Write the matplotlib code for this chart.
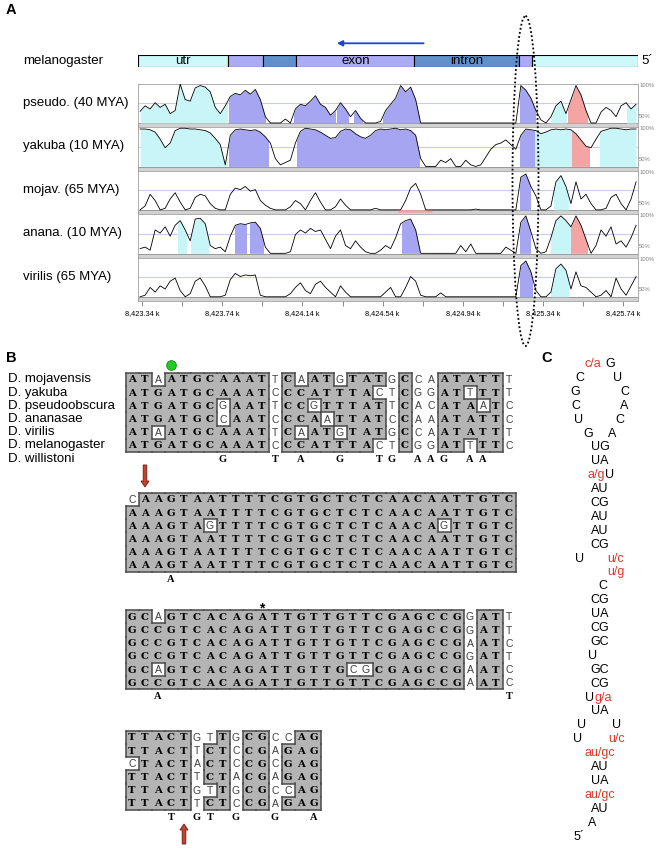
#!/usr/bin/env python3
"""Conservation tracks (A), alignment blocks (B) and hairpin (C) redrawn with matplotlib."""

from collections import Counter

import matplotlib

matplotlib.use("Agg")
import matplotlib.pyplot as plt
import numpy as np
from matplotlib.collections import LineCollection
from matplotlib.patches import Ellipse, Rectangle

W, H = 661, 849
plt.rcParams["font.family"] = ["Liberation Sans", "DejaVu Sans"]

# ---------------------------------------------------------------- panel A data
SAMPLE_START = 8423.33   # kb of first curve sample
SAMPLE_STEP = 0.025      # kb between samples
X_RANGE = (8423.318, 8425.813)
TICKS = [8423.34, 8423.54, 8423.74, 8423.94, 8424.14, 8424.34, 8424.54,
         8424.74, 8424.94, 8425.14, 8425.34, 8425.54, 8425.74]

GENE_STARTS = [8423.318, 8423.768, 8423.944, 8424.110, 8424.698, 8425.222, 8425.285]
GENE_ENDS = [8423.768, 8423.944, 8424.110, 8424.698, 8425.222, 8425.285, 8425.813]
GENE_KINDS = ["utr", "exon", "intron", "exon", "intron", "exon", "utr"]
GENE_LABELS = ["utr", "", "", "exon", "intron", "", ""]
ARROW_KB = (8424.745, 8424.312)

PSEUDO = [65, 72, 68, 76, 70, 74, 62, 66, 100, 80,
          78, 95, 98, 96, 90, 70, 62, 72, 84, 88,
          86, 92, 87, 93, 80, 58, 50, 50, 50, 55,
          50, 68, 74, 72, 78, 85, 74, 70, 60, 66,
          76, 68, 58, 66, 56, 50, 50, 50, 52, 66,
          74, 82, 98, 90, 96, 80, 50, 50, 50, 50,
          50, 50, 50, 50, 50, 50, 50, 50, 50, 50,
          50, 50, 50, 50, 50, 50, 98, 92, 82, 66,
          54, 50, 58, 72, 78, 62, 80, 98, 86, 66,
          50, 50, 64, 70, 66, 58, 72, 76, 68, 74]
YAKUBA = [98, 98, 97, 94, 85, 74, 80, 96, 99, 99,
          98, 98, 97, 96, 93, 86, 78, 52, 90, 97,
          98, 97, 96, 97, 94, 88, 80, 60, 52, 55,
          58, 80, 95, 99, 98, 97, 94, 90, 86, 87,
          95, 98, 97, 92, 88, 86, 90, 96, 98, 97,
          98, 99, 97, 98, 96, 90, 60, 50, 50, 50,
          58, 55, 60, 50, 50, 58, 52, 50, 52, 62,
          72, 78, 80, 84, 78, 72, 90, 98, 97, 96,
          92, 94, 97, 98, 97, 98, 97, 92, 84, 76,
          74, 85, 95, 97, 99, 99, 98, 97, 98, 98]
MOJAV = [50, 55, 70, 62, 50, 52, 64, 72, 60, 50,
         52, 66, 70, 68, 58, 52, 50, 50, 70, 78,
         76, 80, 74, 76, 62, 56, 52, 50, 50, 50,
         54, 62, 58, 50, 62, 72, 60, 50, 50, 54,
         64, 56, 50, 50, 50, 50, 50, 52, 50, 50,
         50, 50, 50, 62, 78, 84, 70, 50, 50, 50,
         50, 50, 50, 50, 50, 50, 50, 51, 50, 50,
         50, 50, 50, 50, 50, 50, 92, 96, 80, 68,
         50, 50, 55, 86, 94, 80, 58, 86, 64, 70,
         58, 50, 50, 52, 66, 70, 58, 50, 64, 86]
ANANA = [56, 58, 54, 80, 76, 84, 72, 86, 92, 80,
         66, 94, 95, 88, 60, 56, 58, 52, 72, 86,
         88, 87, 89, 90, 82, 58, 50, 50, 50, 50,
         52, 74, 80, 76, 82, 78, 80, 68, 56, 72,
         80, 60, 56, 66, 58, 52, 50, 50, 54, 60,
         56, 70, 88, 92, 94, 80, 50, 50, 50, 50,
         50, 50, 50, 50, 60, 52, 62, 50, 50, 50,
         50, 50, 50, 58, 54, 50, 90, 98, 78, 56,
         50, 52, 70, 92, 98, 92, 84, 98, 86, 68,
         50, 60, 80, 72, 84, 62, 66, 58, 70, 86]
VIRILIS = [50, 52, 62, 56, 64, 60, 70, 74, 58, 50,
           54, 70, 74, 64, 50, 50, 50, 52, 72, 80,
           76, 78, 77, 78, 52, 50, 50, 50, 50, 50,
           54, 62, 68, 58, 54, 66, 70, 62, 56, 50,
           64, 56, 50, 50, 50, 50, 50, 50, 50, 56,
           62, 50, 50, 62, 76, 70, 52, 50, 50, 50,
           55, 50, 50, 50, 50, 50, 50, 50, 50, 50,
           50, 50, 50, 50, 50, 50, 90, 96, 82, 58,
           50, 50, 56, 86, 92, 84, 60, 82, 64, 62,
           56, 50, 52, 58, 50, 74, 60, 52, 64, 76]

PSEUDO_REGIONS = [(8423.318, 8423.762, "utr"), (8423.773, 8423.952, "exon"),
                  (8424.100, 8424.301, "exon"), (8424.312, 8424.365, "exon"),
                  (8424.396, 8424.438, "exon"), (8424.544, 8424.724, "exon"),
                  (8425.227, 8425.299, "exon"), (8425.379, 8425.453, "utr"),
                  (8425.464, 8425.559, "cns"), (8425.760, 8425.813, "utr")]
YAKUBA_REGIONS = [(8423.318, 8423.762, "utr"), (8423.773, 8423.967, "exon"),
                  (8424.111, 8424.724, "exon"), (8425.227, 8425.299, "exon"),
                  (8425.299, 8425.485, "utr"), (8425.485, 8425.570, "cns"),
                  (8425.623, 8425.813, "utr")]
MOJAV_REGIONS = [(8425.227, 8425.278, "exon"), (8425.397, 8425.464, "utr")]
ANANA_REGIONS = [(8423.519, 8423.561, "utr"), (8423.586, 8423.667, "utr"),
                 (8423.806, 8423.857, "exon"), (8423.878, 8423.941, "exon"),
                 (8424.639, 8424.724, "exon"), (8425.227, 8425.274, "exon"),
                 (8425.379, 8425.474, "utr"), (8425.481, 8425.559, "cns")]
VIRILIS_REGIONS = [(8425.227, 8425.284, "exon"), (8425.379, 8425.464, "utr")]
MOJAV_CNS_LINE = (8424.618, 8424.787)

TRACK_NAMES = ["pseudo. (40 MYA)", "yakuba (10 MYA)", "mojav. (65 MYA)",
               "anana. (10 MYA)", "virilis (65 MYA)"]

# ---------------------------------------------------------------- panel B data
SPECIES = ["D. mojavensis", "D. yakuba", "D. pseudoobscura", "D. ananasae",
           "D. virilis", "D. melanogaster", "D. willistoni"]
BLOCK1 = ["ATAATGCAAATTCAATGTATGCCAATATTT",
          "ATGATGCAAATCCCATTTACTCGGATTTTT",
          "ATGATGCGAATTCCGTTTATTCACATAATC",
          "ATGATGCCAATCCCAATTATCCAAATATTC",
          "ATAATGCAAATTCAATGTATGCCAATATTT",
          "ATGATGCAAATCCCATTTACTCGGATTTTC"]
BLOCK2 = ["CAAGTAATTTTCGTGCTCTCAACAATTGTC",
          "AAAGTAATTTTCGTGCTCTCAACAATTGTC",
          "AAAGTAGTTTTCGTGCTCTCAACAGTTGTC",
          "AAAGTAATTTTCGTGCTCTCAACAATTGTC",
          "AAAGTAATTTTCGTGCTCTCAACAATTGTC",
          "AAAGTAATTTTCGTGCTCTCAACAATTGTC"]
BLOCK3 = ["GCAGTCACAGATTGTTGTTCGAGCCGGATT",
          "GCCGTCACAGATTGTTGTTCGAGCCGGATT",
          "GCCGTCACAGATTGTTGTTCGAGCCGAATC",
          "GCCGTCACAGATTGTTGTTCGAGCCGGATT",
          "GCAGTCACAGATTGTTGCGCGAGCCGAATC",
          "GCCGTCACAGATTGTTGTTCGAGCCGAATC"]
BLOCK4 = ["TTACTGTTGCGCCAG",
          "TTACTTCTCCGAGAG",
          "CTACTACTCCGCGAG",
          "TTACTTCTACGAGAG",
          "TTACTGTTGCGCCAG",
          "TTACTTCTCCGAGAG"]
WILLISTONI = ["       G   T A  G  TG AAG AA  ",
              "   A                          ",
              "  A                          T",
              "   T GT G  G  A"]
BLOCKS = [BLOCK1, BLOCK2, BLOCK3, BLOCK4]
START_CODON_COL = 4      # green dot, block 1
SPLICE_COLS = (2, 5)     # red arrows: block 2 (down), block 4 (up)
STAR_COL = 11            # asterisk, block 3

# ---------------------------------------------------------------- panel C data
# hairpin read top (loop) to bottom (5' end); lowercase = variable positions
HAIRPIN = [
    [("c/a", 593), ("G", 610)],
    [("C", 580), ("U", 618)],
    [("G", 575), ("C", 625)],
    [("C", 576), ("A", 624)],
    [("U", 579), ("C", 620)],
    [("G", 588), ("A", 612)],
    [("UG", 600)],
    [("UA", 600)],
    [("a/g", 596), ("U", 610)],
    [("AU", 600)],
    [("CG", 600)],
    [("AU", 600)],
    [("AU", 600)],
    [("CG", 600)],
    [("U", 580), ("u/c", 616)],
    [("u/g", 616)],
    [("C", 603)],
    [("CG", 600)],
    [("UA", 600)],
    [("CG", 600)],
    [("GC", 600)],
    [("U", 593)],
    [("GC", 600)],
    [("CG", 600)],
    [("U", 589.5), ("g/a", 603)],
    [("UA", 600)],
    [("U", 582), ("U", 617)],
    [("U", 578), ("u/c", 617)],
    [("au/gc", 600)],
    [("AU", 600)],
    [("UA", 600)],
    [("au/gc", 600)],
    [("AU", 600)],
    [("A", 592)],
    [("5\u00b4", 579)],
]

FILL = {"utr": "#c8f6f8", "exon": "#a5a5f2", "cns": "#f4a4a2"}
BAR = {"utr": "#cdf8fa", "exon": "#abaaf4", "intron": "#6090cb"}
RED = "#e2382c"

fig = plt.figure(figsize=(W / 100, H / 100), dpi=100)
bg = fig.add_axes([0, 0, 1, 1])
bg.set_xlim(0, W)
bg.set_ylim(H, 0)
bg.axis("off")


def px_axes(left, top, width, height):
    return fig.add_axes([left / W, 1 - (top + height) / H, width / W, height / H])


# ---------------------------------------------------------------- panel A
TRACK_LEFT, TRACK_WIDTH = 137.7, 500.0
TRACK_TOP, TRACK_PITCH, TRACK_HEIGHT = 84.0, 43.45, 43.5
Y_LIM = (44.2, 100.0)

bg.text(6, 10, "A", fontsize=10.5, fontweight="bold", va="center")
bg.text(23, 61, "melanogaster", fontsize=9.5, va="center")
bg.text(641, 61, "5\u00b4", fontsize=9.5, va="center")

bar = px_axes(TRACK_LEFT, 55, TRACK_WIDTH, 11.7)
bar.set_xlim(*X_RANGE)
bar.set_ylim(0, 1)
bar.axis("off")
starts = np.array(GENE_STARTS)
ends = np.array(GENE_ENDS)
bar.barh(0.5, ends - starts, left=starts, height=1.0,
         color=[BAR[k] for k in GENE_KINDS], edgecolor="black", linewidth=0.8)
for s, e, label in zip(starts, ends, GENE_LABELS):
    if label:
        bar.text((s + e) / 2, 0.45, label, ha="center", va="center", fontsize=9.5)
bar.annotate("", xy=(ARROW_KB[1], 2.0), xytext=(ARROW_KB[0], 2.0),
             arrowprops=dict(arrowstyle="-|>", color="#1f3fe0", lw=1.3,
                             mutation_scale=8, shrinkA=0, shrinkB=0),
             annotation_clip=False)

tracks = [(PSEUDO, PSEUDO_REGIONS), (YAKUBA, YAKUBA_REGIONS), (MOJAV, MOJAV_REGIONS),
          (ANANA, ANANA_REGIONS), (VIRILIS, VIRILIS_REGIONS)]
for k, (name, (values, regions)) in enumerate(zip(TRACK_NAMES, tracks)):
    top = TRACK_TOP + k * TRACK_PITCH
    ax = px_axes(TRACK_LEFT, top, TRACK_WIDTH, TRACK_HEIGHT)
    x = SAMPLE_START + SAMPLE_STEP * np.arange(len(values))
    y = np.array(values, dtype=float)
    ax.set_xlim(*X_RANGE)
    ax.set_ylim(*Y_LIM)
    ax.axhspan(Y_LIM[0], 49.5, facecolor="#d2d2d2", edgecolor="#8c8c8c", lw=0.6, zorder=0)
    ax.axhline(75, color="#cbcbee", lw=0.8, zorder=0.5)
    for s, e, kind in regions:
        poly = ax.fill_between(x, 50, y, color=FILL[kind], lw=0, zorder=1)
        poly.set_clip_path(Rectangle((s, 40), e - s, 70, transform=ax.transData))
    if k == 2:
        ax.hlines(48.6, *MOJAV_CNS_LINE, color="#f2a3a3", lw=1.8, zorder=2)
    ax.plot(x, y, color="black", lw=0.6, zorder=3)
    for sp in ax.spines.values():
        sp.set_color("#a0a0a0")
        sp.set_linewidth(0.6)
    ax.set_yticks([])
    ax.text(1.003, 0.97, "100%", transform=ax.transAxes, fontsize=4.2, color="#808080",
            va="center")
    ax.text(1.003, 0.26, "50%", transform=ax.transAxes, fontsize=4.2, color="#808080",
            va="center")
    if k == len(tracks) - 1:
        ax.set_xticks(TICKS)
        ax.set_xticklabels([f"{t:,.2f} k" if i % 2 == 0 else "" for i, t in enumerate(TICKS)])
        ax.tick_params(axis="x", length=3.5, width=0.6, color="#777777",
                       labelsize=5.3, pad=2.5)
    else:
        ax.set_xticks([])
    bg.text(23, top + 19, name, fontsize=9.5, va="center")

# ---------------------------------------------------------------- panel B
COL_X0, COL_W = 132.0, 13.0
ROW_H = 13.2
BLOCK_Y0 = [379.3, 499.3, 616.7, 737.3]

bg.text(6, 358, "B", fontsize=10.5, fontweight="bold", va="center")
for r, name in enumerate(SPECIES):
    bg.text(8, BLOCK_Y0[0] + r * ROW_H, name, fontsize=9.5, va="center")

for rows, y0, willi in zip(BLOCKS, BLOCK_Y0, WILLISTONI):
    n_rows, n_cols = len(rows), len(rows[0])
    shaded = np.zeros((n_rows, n_cols), dtype=bool)
    for c in range(n_cols):
        column = [row[c] for row in rows]
        base, count = Counter(column).most_common(1)[0]
        if count >= 4:
            shaded[:, c] = [b == base for b in column]
    segs = []
    for r in range(n_rows):
        for c in range(n_cols):
            cx = COL_X0 + c * COL_W
            cy = y0 + r * ROW_H
            x0, x1 = cx - COL_W / 2, cx + COL_W / 2
            t0, t1 = cy - ROW_H / 2, cy + ROW_H / 2
            if shaded[r, c]:
                bg.add_patch(Rectangle((x0, t0), COL_W, ROW_H, facecolor="#b4b4b4",
                                       edgecolor="none", zorder=1))
                if r == 0 or not shaded[r - 1, c]:
                    segs.append([(x0, t0), (x1, t0)])
                if r == n_rows - 1 or not shaded[r + 1, c]:
                    segs.append([(x0, t1), (x1, t1)])
                if c == 0 or not shaded[r, c - 1]:
                    segs.append([(x0, t0), (x0, t1)])
                if c == n_cols - 1 or not shaded[r, c + 1]:
                    segs.append([(x1, t0), (x1, t1)])
                bg.text(cx, cy + 0.6, rows[r][c], ha="center", va="center",
                        fontsize=7.3, fontweight="bold", family="DejaVu Serif", zorder=3)
            else:
                bg.text(cx, cy + 0.6, rows[r][c], ha="center", va="center",
                        fontsize=7.5, color="#404040", zorder=3)
    bg.add_collection(LineCollection(segs, colors="#4a4a4a", linewidths=1.1,
                                      capstyle="projecting", zorder=2))
    for c, ch in enumerate(willi):
        if ch != " ":
            bg.text(COL_X0 + c * COL_W, y0 + n_rows * ROW_H + 0.6, ch, ha="center",
                    va="center", fontsize=7.5, fontweight="bold",
                    family="Liberation Serif")

# markers
bg.plot(COL_X0 + (START_CODON_COL - 1) * COL_W, 365, "o", ms=7,
        mfc="#22cc22", mec="#118811", mew=0.6)
bg.text(COL_X0 + (STAR_COL - 1) * COL_W, 608, "*", ha="center", va="center",
        fontsize=10, fontweight="bold")
for col, (ya, yb) in zip(SPLICE_COLS, [(465, 487), (844, 824)]):
    bg.arrow(COL_X0 + (col - 1) * COL_W, ya, 0, yb - ya, width=3.6, head_width=8,
             head_length=6, length_includes_head=True, fc="#c9402c", ec="#6a1a10",
             lw=0.6)

# ---------------------------------------------------------------- panel C
bg.text(541, 358, "C", fontsize=10.5, fontweight="bold", va="center")
for i, line in enumerate(HAIRPIN):
    yy = 364 + i * 13.9
    for text, xx in line:
        bg.text(xx, yy, text, ha="center", va="center", fontsize=9,
                color=RED if text.islower() else "black")

# ---------------------------------------------------------------- overlay ellipse
top_ax = fig.add_axes([0, 0, 1, 1], facecolor="none")
top_ax.set_xlim(0, W)
top_ax.set_ylim(H, 0)
top_ax.axis("off")
top_ax.add_patch(Ellipse((525.5, 181), 26, 330, fill=False, ec="black", lw=1.3,
                         ls=(0, (1, 1.3))))

fig.savefig("out.png", dpi=100)
